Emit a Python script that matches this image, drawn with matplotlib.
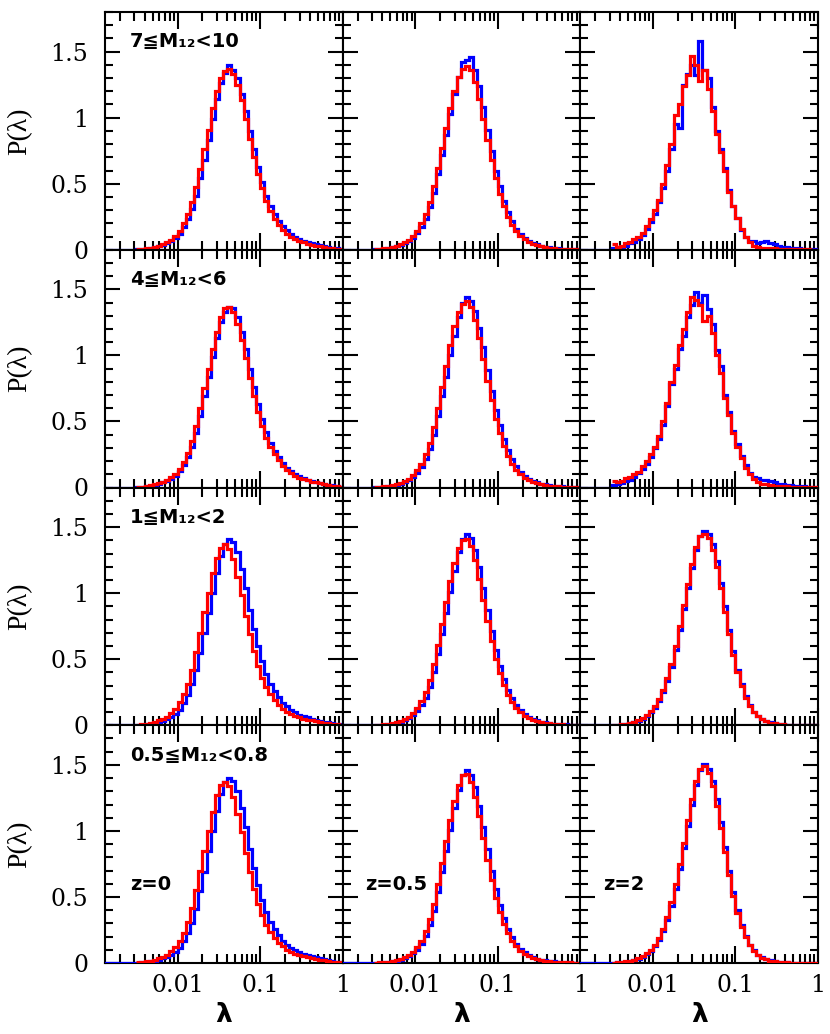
import numpy as np
import matplotlib
matplotlib.use("Agg")
import matplotlib.pyplot as plt
from matplotlib.ticker import MultipleLocator, LogLocator, NullFormatter, FuncFormatter

# ---------------- data ----------------
# histogram bins in log10(lambda): 50 bins of 0.05 dex from -2.5 to 0
LOG_EDGES = np.round(np.linspace(-2.5, 0.0, 51), 3)
BLUE_START = -2.9   # blue histogram starts (with zeros) left of the axis range

ROW_LABELS = ["7≦M₁₂<10", "4≦M₁₂<6", "1≦M₁₂<2", "0.5≦M₁₂<0.8"]
COL_LABELS = ["z=0", "z=0.5", "z=2"]

# row 1 : 7 <= M12 < 10
blue_r1_z0 = [0.003,0.005,0.008,0.012,0.019,0.027,0.036,0.048,0.065,0.09,
              0.12,0.17,0.23,0.31,0.41,0.54,0.68,0.83,0.99,1.14,
              1.26,1.34,1.40,1.36,1.30,1.18,1.05,0.90,0.76,0.63,
              0.51,0.41,0.33,0.27,0.22,0.18,0.147,0.12,0.10,0.083,
              0.07,0.06,0.05,0.042,0.035,0.028,0.022,0.016,0.011,0.007]
red_r1_z0 = [0.004,0.006,0.01,0.015,0.022,0.031,0.042,0.055,0.075,0.105,
             0.145,0.20,0.27,0.36,0.475,0.61,0.76,0.91,1.07,1.20,
             1.30,1.35,1.37,1.33,1.25,1.13,0.99,0.84,0.70,0.575,
             0.465,0.37,0.295,0.235,0.19,0.152,0.122,0.098,0.08,0.066,
             0.055,0.046,0.039,0.032,0.026,0.021,0.016,0.012,0.008,0.005]
blue_r1_z05 = [0.004,0.005,0.008,0.012,0.018,0.025,0.035,0.048,0.066,0.092,
               0.125,0.17,0.235,0.32,0.43,0.57,0.72,0.87,1.03,1.18,
               1.31,1.42,1.44,1.46,1.36,1.24,1.08,0.91,0.75,0.60,
               0.48,0.37,0.285,0.215,0.16,0.12,0.09,0.068,0.052,0.04,
               0.031,0.024,0.018,0.014,0.011,0.008,0.006,0.005,0.003,0.002]
red_r1_z05 = [0.005,0.007,0.01,0.015,0.021,0.03,0.041,0.056,0.077,0.105,
              0.145,0.20,0.27,0.365,0.48,0.62,0.77,0.92,1.07,1.20,
              1.31,1.37,1.39,1.36,1.27,1.14,0.99,0.83,0.68,0.54,
              0.425,0.33,0.25,0.19,0.142,0.106,0.08,0.06,0.046,0.035,
              0.027,0.021,0.016,0.012,0.009,0.007,0.005,0.004,0.003,0.002]
blue_r1_z2 = [0.01,0.01,0.02,0.03,0.05,0.06,0.08,0.11,0.16,0.21,
              0.27,0.36,0.47,0.60,0.76,0.95,0.92,1.25,1.33,1.40,
              1.32,1.58,1.36,1.30,1.08,0.90,0.76,0.62,0.45,0.33,
              0.24,0.15,0.10,0.07,0.07,0.05,0.06,0.07,0.05,0.04,
              0.03,0.02,0.02,0.015,0.01,0.01,0.005,0.005,0.003,0.002]
red_r1_z2 = [0.04,0.02,0.03,0.05,0.06,0.08,0.10,0.13,0.18,0.23,
             0.30,0.38,0.50,0.64,0.80,1.02,1.10,1.24,1.32,1.47,
             1.40,1.28,1.36,1.22,1.05,0.88,0.74,0.60,0.44,0.33,
             0.24,0.16,0.10,0.06,0.03,0.02,0.015,0.01,0.01,0.01,
             0.008,0.006,0.005,0.004,0.003,0.003,0.002,0.002,0.001,0.001]

# row 2 : 4 <= M12 < 6
blue_r2_z0 = [0.003,0.005,0.008,0.013,0.02,0.028,0.038,0.05,0.066,0.09,
              0.122,0.17,0.23,0.31,0.415,0.545,0.69,0.84,0.99,1.13,
              1.25,1.33,1.37,1.36,1.29,1.18,1.05,0.90,0.76,0.63,
              0.52,0.42,0.34,0.28,0.23,0.185,0.15,0.122,0.10,0.084,
              0.071,0.06,0.051,0.043,0.036,0.029,0.022,0.016,0.011,0.007]
red_r2_z0 = [0.004,0.006,0.01,0.016,0.023,0.032,0.043,0.056,0.076,0.103,
             0.14,0.195,0.26,0.35,0.465,0.60,0.75,0.90,1.05,1.18,
             1.29,1.36,1.37,1.33,1.24,1.12,0.98,0.83,0.69,0.57,
             0.465,0.375,0.305,0.25,0.205,0.165,0.133,0.108,0.09,0.075,
             0.063,0.053,0.045,0.038,0.031,0.025,0.019,0.014,0.01,0.006]
blue_r2_z05 = [0.003,0.004,0.006,0.01,0.015,0.021,0.03,0.041,0.057,0.08,
               0.11,0.155,0.215,0.295,0.40,0.54,0.69,0.84,1.0,1.15,
               1.29,1.40,1.44,1.41,1.34,1.21,1.06,0.89,0.73,0.59,
               0.47,0.37,0.285,0.215,0.16,0.12,0.09,0.068,0.051,0.039,
               0.03,0.023,0.018,0.014,0.011,0.008,0.006,0.005,0.003,0.002]
red_r2_z05 = [0.004,0.005,0.008,0.012,0.018,0.025,0.035,0.048,0.066,0.092,
              0.13,0.18,0.25,0.34,0.46,0.60,0.76,0.92,1.08,1.22,
              1.33,1.39,1.41,1.37,1.27,1.13,0.97,0.81,0.66,0.52,
              0.41,0.315,0.24,0.18,0.135,0.10,0.075,0.057,0.043,0.033,
              0.025,0.019,0.015,0.011,0.009,0.007,0.005,0.004,0.003,0.002]
blue_r2_z2 = [0.02,0.025,0.035,0.05,0.06,0.08,0.11,0.14,0.18,0.23,
              0.30,0.37,0.47,0.62,0.78,0.90,1.05,1.15,1.29,1.38,
              1.48,1.40,1.46,1.35,1.24,1.04,0.92,0.70,0.57,0.43,
              0.33,0.24,0.17,0.11,0.08,0.07,0.06,0.06,0.05,0.04,
              0.03,0.03,0.02,0.02,0.01,0.01,0.01,0.005,0.004,0.003]
red_r2_z2 = [0.05,0.04,0.05,0.07,0.08,0.10,0.12,0.16,0.20,0.25,
             0.31,0.39,0.50,0.64,0.80,0.93,1.08,1.20,1.33,1.44,
             1.42,1.38,1.26,1.30,1.17,1.00,0.87,0.68,0.55,0.41,
             0.31,0.22,0.15,0.10,0.065,0.045,0.03,0.025,0.02,0.015,
             0.01,0.01,0.008,0.006,0.005,0.004,0.003,0.002,0.002,0.001]

# row 3 : 1 <= M12 < 2
blue_r3_z0 = [0.002,0.004,0.007,0.012,0.018,0.026,0.035,0.047,0.062,0.087,
              0.118,0.168,0.228,0.31,0.415,0.55,0.695,0.85,1.005,1.155,
              1.285,1.375,1.41,1.39,1.31,1.18,1.04,0.87,0.73,0.60,
              0.49,0.39,0.315,0.26,0.213,0.172,0.142,0.117,0.097,0.081,
              0.069,0.059,0.05,0.043,0.035,0.028,0.022,0.016,0.011,0.007]
red_r3_z0 = [0.004,0.007,0.012,0.018,0.026,0.037,0.049,0.065,0.09,0.123,
             0.173,0.235,0.315,0.42,0.555,0.70,0.855,1.005,1.15,1.27,
             1.345,1.37,1.335,1.255,1.125,0.985,0.83,0.69,0.56,0.45,
             0.36,0.29,0.235,0.19,0.155,0.125,0.10,0.083,0.07,0.06,
             0.05,0.043,0.036,0.03,0.024,0.019,0.014,0.01,0.007,0.005]
blue_r3_z05 = [0.002,0.003,0.005,0.008,0.013,0.019,0.027,0.038,0.053,0.075,
               0.105,0.15,0.21,0.29,0.40,0.54,0.69,0.85,1.01,1.17,
               1.31,1.41,1.45,1.42,1.33,1.20,1.04,0.87,0.71,0.57,
               0.45,0.35,0.27,0.205,0.153,0.115,0.086,0.065,0.049,0.037,
               0.028,0.022,0.017,0.013,0.01,0.008,0.006,0.004,0.003,0.002]
red_r3_z05 = [0.003,0.005,0.007,0.011,0.016,0.023,0.033,0.046,0.064,0.09,
              0.127,0.18,0.25,0.34,0.46,0.61,0.77,0.93,1.09,1.23,
              1.34,1.40,1.41,1.36,1.25,1.11,0.95,0.79,0.64,0.505,
              0.395,0.305,0.232,0.175,0.13,0.097,0.073,0.055,0.041,0.031,
              0.024,0.018,0.014,0.011,0.008,0.006,0.005,0.004,0.003,0.002]
blue_r3_z2 = [0.002,0.004,0.007,0.011,0.016,0.024,0.034,0.049,0.069,0.097,
              0.134,0.185,0.25,0.335,0.44,0.57,0.72,0.88,1.04,1.19,
              1.33,1.43,1.47,1.45,1.37,1.24,1.08,0.90,0.72,0.56,
              0.42,0.31,0.22,0.152,0.104,0.07,0.047,0.032,0.021,0.014,
              0.01,0.007,0.005,0.003,0.002,0.001,0.001,0.0,0.0,0.0]
red_r3_z2 = [0.003,0.005,0.008,0.012,0.018,0.027,0.038,0.054,0.076,0.106,
             0.145,0.198,0.265,0.355,0.465,0.60,0.75,0.91,1.07,1.22,
             1.35,1.43,1.45,1.42,1.33,1.20,1.04,0.86,0.69,0.535,
             0.40,0.295,0.21,0.145,0.099,0.067,0.045,0.03,0.02,0.014,
             0.009,0.006,0.004,0.003,0.002,0.001,0.001,0.001,0.0,0.0]

# row 4 : 0.5 <= M12 < 0.8
blue_r4_z0 = [0.002,0.004,0.007,0.012,0.018,0.026,0.035,0.046,0.06,0.085,
              0.115,0.165,0.225,0.305,0.41,0.545,0.69,0.845,1.00,1.15,
              1.28,1.37,1.40,1.38,1.30,1.17,1.03,0.86,0.72,0.59,
              0.48,0.385,0.31,0.255,0.21,0.17,0.14,0.115,0.095,0.08,
              0.068,0.058,0.05,0.043,0.035,0.028,0.022,0.016,0.011,0.007]
red_r4_z0 = [0.004,0.007,0.012,0.018,0.026,0.036,0.048,0.063,0.088,0.12,
             0.17,0.23,0.31,0.415,0.55,0.695,0.85,1.00,1.145,1.27,
             1.35,1.37,1.34,1.26,1.13,0.99,0.83,0.69,0.56,0.45,
             0.36,0.29,0.235,0.19,0.155,0.125,0.10,0.083,0.07,0.06,
             0.05,0.043,0.036,0.03,0.024,0.019,0.014,0.01,0.007,0.005]
blue_r4_z05 = [0.002,0.003,0.005,0.008,0.012,0.018,0.026,0.036,0.05,0.072,
               0.10,0.145,0.205,0.285,0.395,0.54,0.69,0.85,1.01,1.17,
               1.31,1.42,1.46,1.42,1.33,1.19,1.03,0.86,0.70,0.56,
               0.44,0.34,0.26,0.195,0.145,0.108,0.08,0.06,0.045,0.034,
               0.026,0.02,0.015,0.012,0.009,0.007,0.005,0.004,0.003,0.002]
red_r4_z05 = [0.003,0.004,0.007,0.01,0.015,0.022,0.031,0.043,0.06,0.085,
              0.12,0.17,0.24,0.33,0.45,0.60,0.76,0.92,1.08,1.23,
              1.35,1.42,1.43,1.37,1.26,1.11,0.95,0.78,0.63,0.495,
              0.385,0.295,0.225,0.168,0.125,0.093,0.07,0.052,0.039,0.03,
              0.023,0.018,0.014,0.011,0.008,0.006,0.005,0.004,0.003,0.002]
blue_r4_z2 = [0.002,0.004,0.006,0.01,0.015,0.022,0.032,0.046,0.065,0.092,
              0.128,0.177,0.24,0.325,0.43,0.56,0.71,0.87,1.04,1.20,
              1.35,1.46,1.51,1.47,1.38,1.24,1.07,0.88,0.70,0.54,
              0.40,0.29,0.205,0.14,0.095,0.064,0.043,0.029,0.019,0.013,
              0.009,0.006,0.004,0.003,0.002,0.001,0.001,0.0,0.0,0.0]
red_r4_z2 = [0.003,0.005,0.008,0.012,0.018,0.026,0.037,0.052,0.073,0.102,
             0.14,0.193,0.26,0.35,0.46,0.595,0.75,0.91,1.08,1.24,
             1.38,1.47,1.49,1.44,1.34,1.19,1.02,0.84,0.665,0.51,
             0.38,0.275,0.195,0.133,0.09,0.061,0.041,0.027,0.018,0.012,
             0.008,0.006,0.004,0.003,0.002,0.001,0.001,0.001,0.0,0.0]

BLUE = [[blue_r1_z0, blue_r1_z05, blue_r1_z2],
        [blue_r2_z0, blue_r2_z05, blue_r2_z2],
        [blue_r3_z0, blue_r3_z05, blue_r3_z2],
        [blue_r4_z0, blue_r4_z05, blue_r4_z2]]
RED = [[red_r1_z0, red_r1_z05, red_r1_z2],
       [red_r2_z0, red_r2_z05, red_r2_z2],
       [red_r3_z0, red_r3_z05, red_r3_z2],
       [red_r4_z0, red_r4_z05, red_r4_z2]]

# ---------------- style ----------------
plt.rcParams["font.family"] = ["DejaVu Serif"]
W, H = 830, 1034
fig = plt.figure(figsize=(W / 100, H / 100), dpi=100)
L, R, T, B = 105, 818, 12, 963
axes = fig.subplots(4, 3, sharex=True, sharey=True,
                    gridspec_kw=dict(left=L / W, right=R / W, top=1 - T / H,
                                     bottom=1 - B / H, wspace=0, hspace=0))

blue_edges = 10 ** np.r_[BLUE_START, LOG_EDGES]
red_edges = 10 ** LOG_EDGES

for i in range(4):
    for j in range(3):
        ax = axes[i, j]
        ax.stairs(np.r_[0.0, BLUE[i][j]], blue_edges, baseline=None,
                  color="#0000ff", lw=2.3, zorder=3)
        ax.stairs(RED[i][j], red_edges, baseline=None,
                  color="#ff0000", lw=2.3, zorder=4)
        ax.set_xscale("log")
        ax.set_xlim(10 ** -2.88, 1.0)
        ax.set_ylim(0, 1.8)
        ax.yaxis.set_major_locator(MultipleLocator(0.5))
        ax.yaxis.set_minor_locator(MultipleLocator(0.1))
        ax.xaxis.set_major_locator(LogLocator(base=10))
        ax.xaxis.set_minor_locator(LogLocator(base=10, subs=np.arange(2, 10)))
        ax.xaxis.set_minor_formatter(NullFormatter())
        ax.xaxis.set_major_formatter(FuncFormatter(lambda v, p: "%g" % v))
        ax.yaxis.set_major_formatter(FuncFormatter(lambda v, p: "%g" % v))
        ax.tick_params(which="both", direction="in", top=True, right=True,
                       width=1.5, colors="black")
        ax.tick_params(axis="x", which="major", length=12.5, pad=8, labelsize=17)
        ax.tick_params(axis="x", which="minor", length=6.5)
        ax.tick_params(axis="y", which="major", length=10.5, pad=12, labelsize=17)
        ax.tick_params(axis="y", which="minor", length=5.5)
        for s in ax.spines.values():
            s.set_linewidth(1.5)
        if j == 0:
            ax.text(0.105, 0.874, ROW_LABELS[i], transform=ax.transAxes,
                    fontsize=14, fontweight="bold", family=["DejaVu Sans"],
                    ha="left", va="center")
        if i == 3:
            ax.text(0.105 if j == 0 else 0.095, 0.33, COL_LABELS[j],
                    transform=ax.transAxes, fontsize=14, fontweight="bold",
                    family=["DejaVu Sans"], ha="left", va="center")

for i in range(4):
    yc = T + (B - T) * (i + 0.5) / 4
    fig.text(20 / W, 1 - yc / H, "P(λ)", rotation=90, ha="center",
             va="center", fontsize=20, family=["Liberation Serif", "DejaVu Serif"])
for j in range(3):
    xc = L + (R - L) * (j + 0.5) / 3
    fig.text(xc / W, 1 - 1015 / H, "λ", ha="center", va="center",
             fontsize=19, fontweight="bold", family=["DejaVu Sans"])

fig.savefig("out.png", dpi=100)
